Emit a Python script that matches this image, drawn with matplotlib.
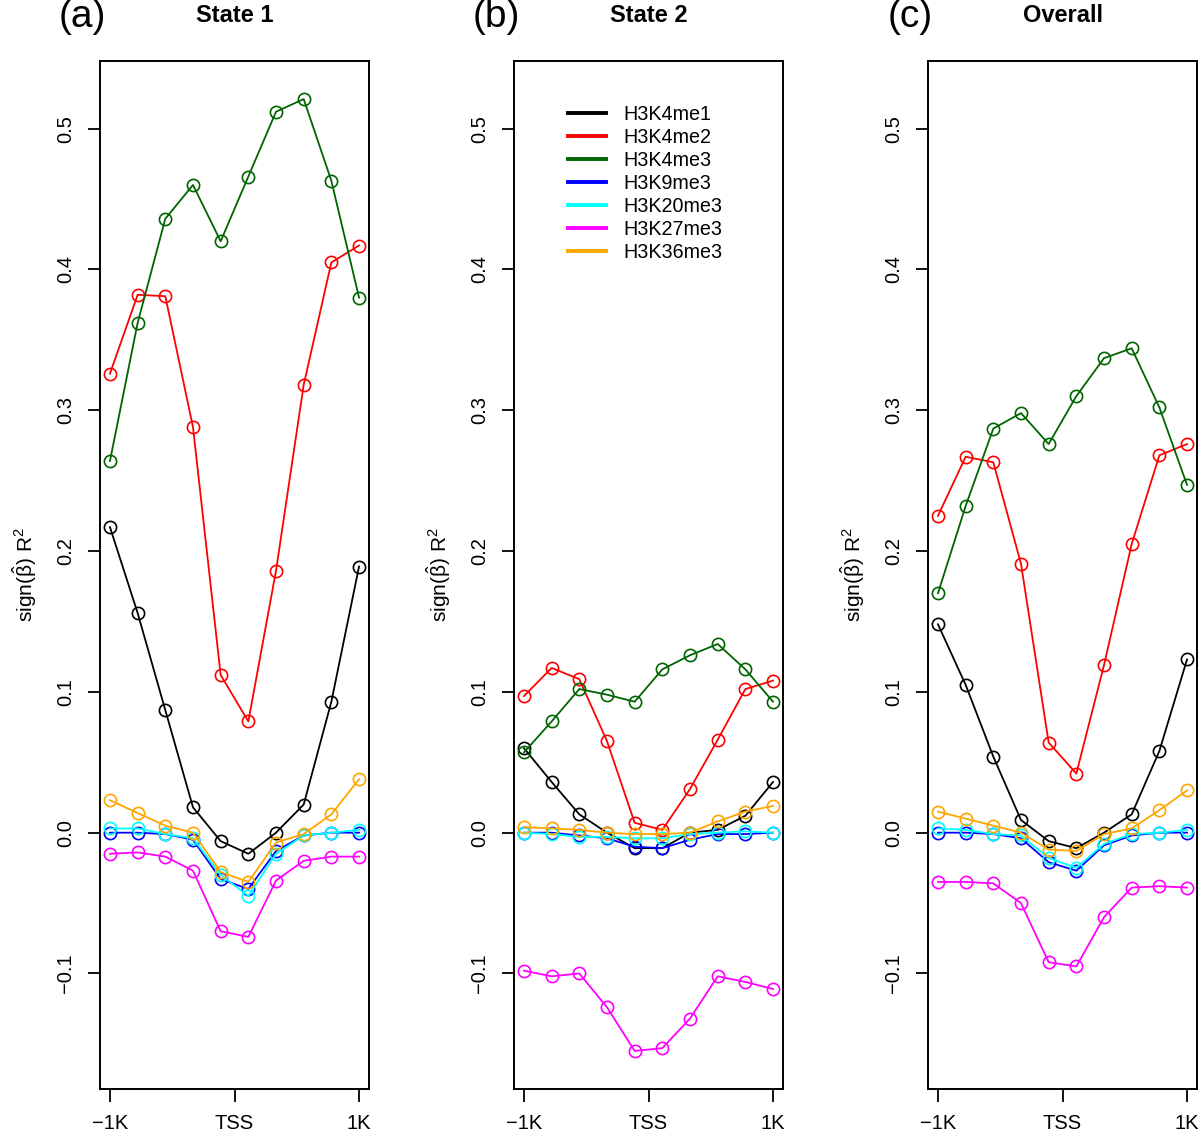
import numpy as np
import matplotlib
matplotlib.use('Agg')
import matplotlib.pyplot as plt

plt.rcParams['font.family'] = ['Liberation Sans', 'DejaVu Sans']
plt.rcParams['mathtext.fontset'] = 'custom'
plt.rcParams['mathtext.rm'] = 'Liberation Sans'
plt.rcParams['mathtext.it'] = 'Liberation Sans:italic'

# 10 positions from -1K to 1K around the TSS
positions = np.arange(1, 11)
xtick_pos = [1, 5.5, 10]
xtick_labels = ['\u22121K', 'TSS', '1K']
ytick_vals = [-0.1, 0.0, 0.1, 0.2, 0.3, 0.4, 0.5]
ytick_labels = ['\u22120.1', '0.0', '0.1', '0.2', '0.3', '0.4', '0.5']

marks = ['H3K4me1', 'H3K4me2', 'H3K4me3', 'H3K9me3', 'H3K20me3', 'H3K27me3', 'H3K36me3']
colors = ['black', '#FF0000', '#006400', '#0000FF', '#00FFFF', '#FF00FF', '#FFA500']

panel_tags = ['(a)', '(b)', '(c)']
panel_titles = ['State 1', 'State 2', 'Overall']

# State 1
state1 = {
    'H3K4me1': [0.217, 0.156, 0.087, 0.018, -0.006, -0.015, 0.000, 0.020, 0.093, 0.189],
    'H3K4me2': [0.326, 0.382, 0.381, 0.288, 0.112, 0.079, 0.186, 0.318, 0.405, 0.417],
    'H3K4me3': [0.264, 0.362, 0.436, 0.460, 0.420, 0.466, 0.512, 0.521, 0.463, 0.380],
    'H3K9me3': [0.000, 0.000, -0.001, -0.005, -0.033, -0.040, -0.013, -0.002, 0.000, 0.000],
    'H3K20me3': [0.003, 0.003, -0.001, -0.004, -0.030, -0.045, -0.015, -0.002, 0.000, 0.002],
    'H3K27me3': [-0.015, -0.014, -0.017, -0.027, -0.070, -0.074, -0.034, -0.020, -0.017, -0.017],
    'H3K36me3': [0.023, 0.014, 0.005, 0.000, -0.028, -0.035, -0.007, -0.001, 0.013, 0.038],
}

# State 2
state2 = {
    'H3K4me1': [0.060, 0.036, 0.013, 0.000, -0.011, -0.011, 0.000, 0.002, 0.012, 0.036],
    'H3K4me2': [0.097, 0.117, 0.109, 0.065, 0.007, 0.002, 0.031, 0.066, 0.102, 0.108],
    'H3K4me3': [0.057, 0.079, 0.102, 0.098, 0.093, 0.116, 0.126, 0.134, 0.116, 0.093],
    'H3K9me3': [0.000, 0.000, -0.002, -0.004, -0.010, -0.011, -0.005, -0.001, -0.001, 0.000],
    'H3K20me3': [0.000, -0.001, -0.003, -0.003, -0.004, -0.004, -0.001, 0.000, 0.001, 0.000],
    'H3K27me3': [-0.098, -0.102, -0.100, -0.124, -0.155, -0.153, -0.132, -0.102, -0.106, -0.111],
    'H3K36me3': [0.004, 0.003, 0.002, 0.000, -0.001, -0.001, 0.000, 0.008, 0.015, 0.019],
}

# Overall
overall = {
    'H3K4me1': [0.148, 0.105, 0.054, 0.009, -0.006, -0.011, 0.000, 0.013, 0.058, 0.123],
    'H3K4me2': [0.225, 0.267, 0.263, 0.191, 0.064, 0.042, 0.119, 0.205, 0.268, 0.276],
    'H3K4me3': [0.170, 0.232, 0.287, 0.298, 0.276, 0.310, 0.337, 0.344, 0.302, 0.247],
    'H3K9me3': [0.000, 0.000, -0.001, -0.004, -0.021, -0.027, -0.009, -0.002, 0.000, 0.000],
    'H3K20me3': [0.003, 0.002, -0.001, -0.002, -0.018, -0.025, -0.008, -0.001, 0.000, 0.002],
    'H3K27me3': [-0.035, -0.035, -0.036, -0.050, -0.092, -0.095, -0.060, -0.039, -0.038, -0.039],
    'H3K36me3': [0.015, 0.010, 0.005, 0.000, -0.012, -0.013, -0.001, 0.003, 0.016, 0.030],
}

panels = [state1, state2, overall]

# common y range, R style 4% expansion
allv = np.concatenate([np.array(p[m]) for p in panels for m in marks])
span = allv.max() - allv.min()
ylim = (allv.min() - 0.04 * span, allv.max() + 0.04 * span)
xlim = (1 - 0.04 * 9, 10 + 0.04 * 9)

W, H = 1200, 1132
fig = plt.figure(figsize=(W / 100, H / 100), dpi=100)

lefts = [100, 514, 928]
ax_w, ax_top, ax_bot = 269, 61, 1089

for i, data in enumerate(panels):
    ax = fig.add_axes([lefts[i] / W, (H - ax_bot) / H, ax_w / W, (ax_bot - ax_top) / H])
    for m, c in zip(marks, colors):
        ax.plot(positions, data[m], color=c, lw=1.3, marker='o', ms=8.8,
                mfc='none', mec=c, mew=1.2, label=m)
    ax.set_xlim(*xlim)
    ax.set_ylim(*ylim)
    ax.set_xticks(xtick_pos)
    ax.set_xticklabels(xtick_labels, fontsize=14.5)
    ax.set_yticks(ytick_vals)
    ax.set_yticklabels(ytick_labels, fontsize=14.5, rotation=90, va='center')
    ax.tick_params(direction='out', length=9, width=1.3, pad=9)
    for s in ax.spines.values():
        s.set_linewidth(1.4)
    ax.set_ylabel(r'$\mathrm{sign}(\hat{\mathrm{\beta}})\ \mathrm{R}^2$', fontsize=15, labelpad=12)

    cx = (lefts[i] + ax_w / 2) / W
    fig.text(cx, 1 - 15 / H, panel_titles[i], fontsize=17, fontweight='bold',
             ha='center', va='center')
    fig.text((lefts[i] - 18) / W, 1 - 17 / H, panel_tags[i], fontsize=28,
             ha='center', va='center')

    if i == 1:
        leg = ax.legend(loc='upper left', bbox_to_anchor=(0.20, 0.957),
                        frameon=False, fontsize=14.2, handlelength=1.95,
                        handletextpad=0.85, labelspacing=0.2,
                        borderaxespad=0, borderpad=0)
        for line in leg.get_lines():
            line.set_marker('')
            line.set_linewidth(2.8)

fig.savefig('out.png', dpi=100)
